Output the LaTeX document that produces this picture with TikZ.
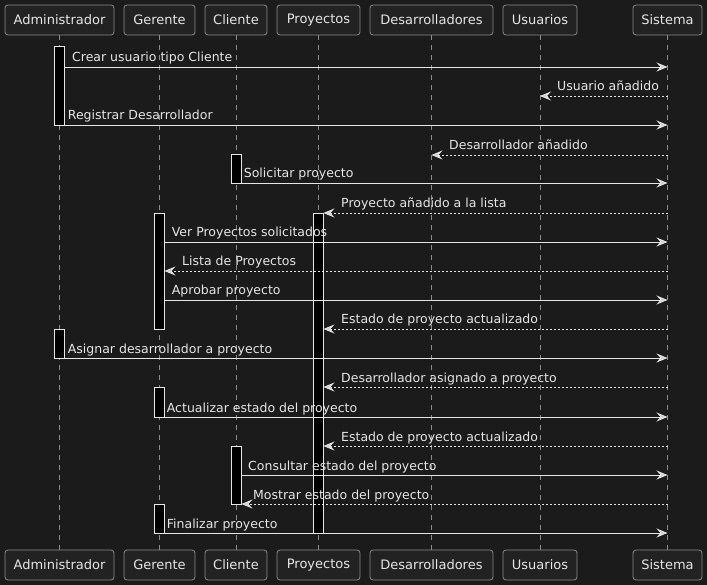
\documentclass[tikz,border=0pt]{standalone}
\usepackage{fontspec}
\setmainfont{DejaVu Sans}
\usetikzlibrary{arrows.meta,fit,positioning}
\definecolor{bgc}{HTML}{1B1B1B}
\definecolor{boxfill}{HTML}{222222}
\definecolor{boxline}{HTML}{8A8A8A}
\definecolor{lifec}{HTML}{8C8C8C}
\definecolor{fg}{HTML}{E6E6E6}
\begin{document}
\begin{tikzpicture}[x=1pt, y=-1pt,
    part/.style={draw=boxline, fill=boxfill, rounded corners=3pt, minimum height=30pt, inner sep=0pt, text=fg, line width=0.8pt, font=\fontsize{13}{15}\selectfont},
    life/.style={draw=lifec, line width=0.8pt, dash pattern=on 5pt off 5pt},
    bar/.style={draw=fg, fill=black, line width=0.9pt, inner sep=0pt},
    call/.style={draw=fg, line width=0.9pt, -{Stealth[length=11pt, width=9pt, inset=4pt, fill=fg!90!black]}},
    ret/.style={call, dash pattern=on 2pt off 2pt},
    lbl/.style={text=fg, inner sep=0pt, anchor=base west, font=\fontsize{12.5}{15}\selectfont}]

    \fill[bgc] (0,0) rectangle (707,585);
    \useasboundingbox (0,0) rectangle (707,585);

    % participants, top and bottom, with lifelines
    \foreach \n/\t/\x/\w in {adm/Administrador/59.5/109, ger/Gerente/159.5/71, cli/Cliente/236/62, pro/Proyectos/318.5/83, des/Desarrolladores/431.5/123, usu/Usuarios/540/74, sis/Sistema/667.5/69}{
        \node[part, minimum width=\w pt] (\n)  at (\x,20)  {\t};
        \node[part, minimum width=\w pt] (\n b) at (\x,565) {\t};
        \draw[life] (\n) -- (\n b);
    }

    % activations
    \node[bar, fit={(54,46) (64,125)}]   (a1) {};
    \node[bar, fit={(231,154) (241,183)}] (a2) {};
    \node[bar, fit={(154,213) (164,329)}] (a3) {};
    \node[bar, fit={(313,213) (323,533)}] (a4) {};
    \node[bar, fit={(54,329) (64,358)}]   (a5) {};
    \node[bar, fit={(154,387) (164,417)}] (a6) {};
    \node[bar, fit={(231,446) (241,504)}] (a7) {};
    \node[bar, fit={(154,504) (164,533)}] (a8) {};

    % messages
    \foreach \i/\s/\p/\q/\y/\lx/\t in {
        1/call/a1.east/sis/67/72/Crear usuario tipo Cliente,
        2/ret/sis/usu/96/557/Usuario añadido,
        3/call/a1.west/sis/125/67.7/Registrar Desarrollador,
        4/ret/sis/des/155/449/Desarrollador añadido,
        5/call/a2.west/sis/183/243.7/Solicitar proyecto,
        6/ret/sis/a4.east/213/341/Proyecto añadido a la lista,
        7/call/a3.east/sis/242/171.7/Ver Proyectos solicitados,
        8/ret/sis/a3.east/271/182/Lista de Proyectos,
        9/call/a3.east/sis/300/171.7/Aprobar proyecto,
        10/ret/sis/a4.east/329/341/Estado de proyecto actualizado,
        11/call/a5.west/sis/358/67.7/Asignar desarrollador a proyecto,
        12/ret/sis/a4.east/387/341/Desarrollador asignado a proyecto,
        13/call/a6.west/sis/417/166.7/Actualizar estado del proyecto,
        14/ret/sis/a4.east/446/341/Estado de proyecto actualizado,
        15/call/a7.east/sis/475/248/Consultar estado del proyecto,
        16/ret/sis/a7.east/504/253/Mostrar estado del proyecto,
        17/call/a8.west/sis/533/166.7/Finalizar proyecto}{
        \draw[\s] (\p |- 0,\y) -- (\q |- 0,\y);
        \node[lbl] (l\i) at (\lx,\y-5) {\t};
    }

\end{tikzpicture}
\end{document}
